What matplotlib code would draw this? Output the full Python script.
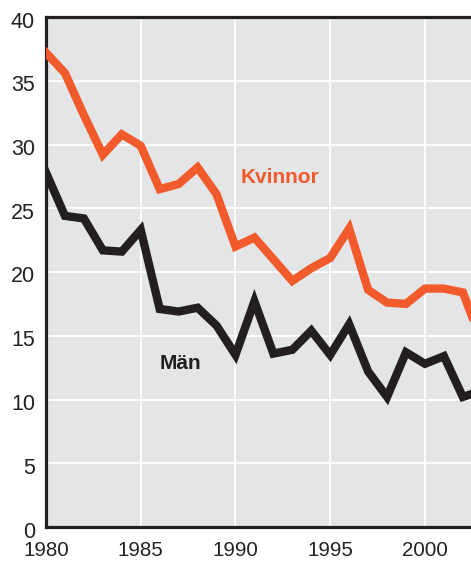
import numpy as np
import matplotlib.pyplot as plt
import matplotlib.transforms as mtransforms

plt.rcParams['font.family'] = ['Liberation Sans', 'DejaVu Sans']

# andel (%) per år
years = list(range(1980, 2004))
kvinnor = [37.2, 35.6, 32.3, 29.2, 30.8, 29.9, 26.5, 26.9, 28.2, 26.1,
           22.0, 22.7, 21.0, 19.3, 20.3, 21.1, 23.4, 18.6, 17.6, 17.5,
           18.7, 18.7, 18.4, 14.5]
man = [27.8, 24.4, 24.2, 21.7, 21.6, 23.3, 17.1, 16.9, 17.2, 15.8,
       13.5, 17.7, 13.6, 13.9, 15.4, 13.5, 15.9, 12.2, 10.2, 13.7,
       12.8, 13.4, 10.2, 10.7]

yticks = [0, 5, 10, 15, 20, 25, 30, 35, 40]
xticks = [1980, 1985, 1990, 1995, 2000]

orange = '#f15a2b'
black = '#231f20'

fig = plt.figure(figsize=(4.71, 5.65), dpi=100)
ax = fig.add_axes([46/471, 38/565, 1 - 46/471, (527 - 17)/565])
ax.set_facecolor('#e4e5e7')

ax.plot(years, kvinnor, color=orange, lw=6, solid_joinstyle='miter', zorder=3)
ax.plot(years, man, color=black, lw=6, solid_joinstyle='miter', zorder=3)

ax.set_xlim(1980, 2002.43)
ax.set_ylim(0, 40)
ax.set_xticks(xticks)
ax.set_yticks(yticks)
ax.grid(True, color='white', lw=1.3)
ax.set_axisbelow(True)
ax.tick_params(length=0, colors='#222222')
ax.tick_params(axis='y', pad=8, labelsize=15.5)
ax.tick_params(axis='x', pad=10, labelsize=14.8)

# siffrorna på y-axeln sitter lite under linjerna
off = mtransforms.ScaledTranslation(0, -2.5/100, fig.dpi_scale_trans)
for lab in ax.get_yticklabels():
    lab.set_transform(lab.get_transform() + off)

for side in ['left', 'bottom', 'top']:
    ax.spines[side].set_linewidth(2.3)
    ax.spines[side].set_color(black)
ax.spines['right'].set_visible(False)

ax.text(1990.25, 27.4, 'Kvinnor', color=orange, fontsize=15, fontweight='bold',
        va='center', ha='left')
ax.text(1986.0, 12.8, 'Män', color=black, fontsize=15, fontweight='bold',
        va='center', ha='left')

fig.savefig('out.png', dpi=100)
